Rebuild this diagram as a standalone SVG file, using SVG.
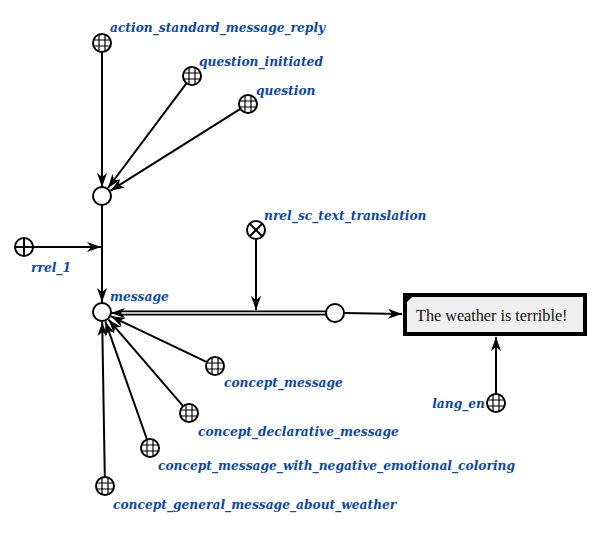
<svg xmlns="http://www.w3.org/2000/svg" width="602" height="537" viewBox="0 0 602 537">
<style>
.lbl{font-family:"DejaVu Serif Condensed","DejaVu Serif",serif;font-stretch:condensed;font-size:13.6px;font-weight:bold;font-style:italic;fill:#0b47a6}
.edge{stroke:#000;stroke-width:2;fill:none}
.nd{fill:#fff;stroke:#000;stroke-width:2}
.gl{stroke:#000;stroke-width:1.2}
</style>
<defs>
<marker id="arr" viewBox="0 0 14 10" refX="14" refY="5" markerWidth="14" markerHeight="10" markerUnits="userSpaceOnUse" orient="auto">
<path d="M0,0 L14,5 L0,10 L4,5 Z" fill="#000"/>
</marker>
<g id="cls">
<circle r="9" class="nd"/>
<path class="gl" d="M-3,-8.2V8.2M3,-8.2V8.2M-8.2,-3H8.2M-8.2,3H8.2"/>
</g>
<g id="role">
<circle r="9" class="nd"/>
<path class="gl" style="stroke-width:2" d="M0,-9V9M-9,0H9"/>
</g>
<g id="nrel">
<circle r="9" class="nd"/>
<path class="gl" style="stroke-width:2" d="M-6.4,-6.4L6.4,6.4M6.4,-6.4L-6.4,6.4"/>
</g>
</defs>
<g id="connectors">
<line class="edge" x1="102" y1="52" x2="102" y2="187" marker-end="url(#arr)"/>
<line class="edge" x1="186.6" y1="83.2" x2="108" y2="188" marker-end="url(#arr)"/>
<line class="edge" x1="240.4" y1="108.8" x2="110.5" y2="190.7" marker-end="url(#arr)"/>
<line class="edge" x1="102" y1="205" x2="102" y2="302" marker-end="url(#arr)"/>
<line class="edge" x1="33" y1="247" x2="101" y2="247" marker-end="url(#arr)"/>
<line x1="326" y1="313" x2="120" y2="313" stroke="#000" stroke-width="5"/>
<line x1="326" y1="313" x2="118" y2="313" stroke="#fff" stroke-width="1.6"/>
<line x1="120" y1="313" x2="111" y2="313" stroke="#000" stroke-width="2" marker-end="url(#arr)"/>
<line class="edge" x1="256" y1="239" x2="256" y2="310" marker-end="url(#arr)"/>
<line class="edge" x1="344" y1="313" x2="402" y2="314" marker-end="url(#arr)"/>
<line class="edge" x1="496" y1="394" x2="496" y2="337" marker-end="url(#arr)"/>
<line class="edge" x1="206.9" y1="362.1" x2="111" y2="316.3" marker-end="url(#arr)"/>
<line class="edge" x1="183.1" y1="406.2" x2="108.5" y2="319.6" marker-end="url(#arr)"/>
<line class="edge" x1="147" y1="439.5" x2="105.3" y2="321.4" marker-end="url(#arr)"/>
<line class="edge" x1="104.8" y1="477" x2="102.2" y2="322" marker-end="url(#arr)"/>
</g>
<g id="action_standard_message_reply"><use href="#cls" x="102" y="43"/><text class="lbl" x="110" y="32">action_standard_message_reply</text></g>
<g id="question_initiated"><use href="#cls" x="192" y="76"/><text class="lbl" x="199" y="66">question_initiated</text></g>
<g id="question"><use href="#cls" x="248" y="104"/><text class="lbl" x="256" y="95">question</text></g>
<g id="tuple"><circle class="nd" cx="102" cy="196" r="9"/></g>
<g id="rrel_1"><use href="#role" x="24" y="247"/><text class="lbl" x="31" y="272">rrel_1</text></g>
<g id="message"><circle class="nd" cx="102" cy="312" r="9"/><text class="lbl" x="110" y="301">message</text></g>
<g id="nrel_sc_text_translation"><use href="#nrel" x="256" y="230"/><text class="lbl" x="264" y="220">nrel_sc_text_translation</text></g>
<g id="pair"><circle class="nd" cx="335" cy="313" r="9"/></g>
<g id="text_link">
<rect x="405" y="295" width="180" height="39" fill="#efefef" stroke="#000" stroke-width="4"/>
<path d="M407,297 h5 l-5,5 z" fill="#000"/>
<text x="416" y="321" style="font-family:'Liberation Serif','DejaVu Serif',serif;font-size:16.2px;fill:#111">The weather is terrible!</text>
</g>
<g id="lang_en"><use href="#cls" x="496" y="403"/><text class="lbl" x="485" y="408" text-anchor="end">lang_en</text></g>
<g id="concept_message"><use href="#cls" x="215" y="366"/><text class="lbl" x="224" y="387">concept_message</text></g>
<g id="concept_declarative_message"><use href="#cls" x="189" y="413"/><text class="lbl" x="198" y="436">concept_declarative_message</text></g>
<g id="concept_message_with_negative_emotional_coloring"><use href="#cls" x="150" y="448"/><text class="lbl" x="158" y="470">concept_message_with_negative_emotional_coloring</text></g>
<g id="concept_general_message_about_weather"><use href="#cls" x="105" y="486"/><text class="lbl" x="113" y="509">concept_general_message_about_weather</text></g>
</svg>
